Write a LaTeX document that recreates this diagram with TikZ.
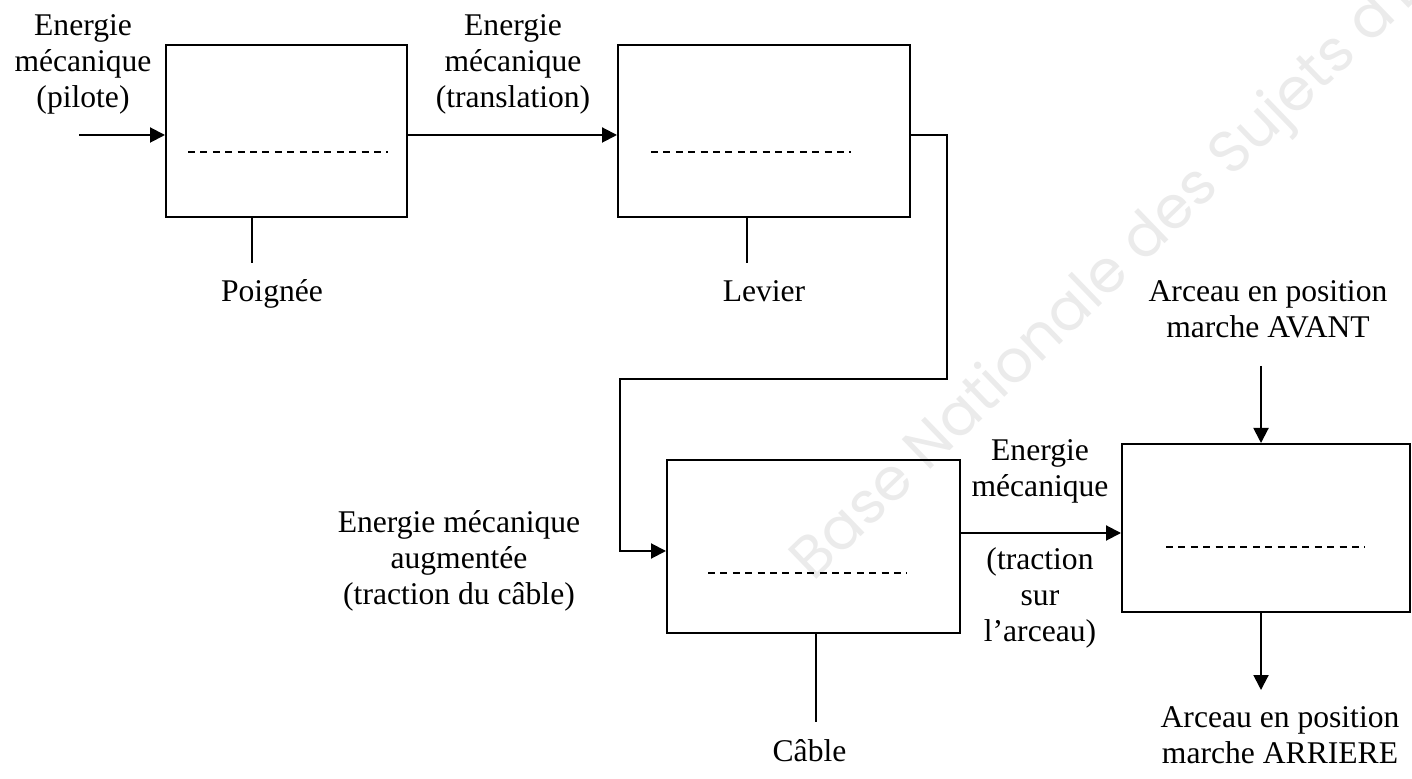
\documentclass[tikz,border=0pt]{standalone}
\usepackage{fontspec}
\setmainfont{Liberation Serif}
\newfontfamily\wmfont{Poppins}
\usetikzlibrary{arrows.meta}

\begin{document}
\begin{tikzpicture}[
				x = 0.5pt, y = -0.5pt,
				bloc/.style = {draw, line width = 1pt, inner sep = 0pt, minimum height = 86pt},
				fleche/.style = {line width = 1pt, -{Triangle[length=7.5pt,width=7.5pt]}},
				support/.style = {line width = 0.7pt},
				pointilles/.style = {line width = 0.65pt, dash pattern = on 3.5pt off 2.7pt},
				txt/.style = {font = \fontsize{15.8}{18}\selectfont, align = center, inner sep = 0pt}
			]

			\useasboundingbox (0,0) rectangle (1412,779);

			% filigrane
			\begin{scope}
				\clip (0,0) rectangle (1412,779);
				\node[anchor=base west, rotate=44, inner sep=0pt, text=black!8,
					font=\fontsize{29.5}{34}\selectfont\wmfont] (filigrane) at (813,583)
					{Base Nationale des Sujets d'Examens};
			\end{scope}

			\node[bloc, minimum width=120.5pt] (poignee) at (286.5,131) {};
			\node[bloc, minimum width=146pt] (levier) at (764,131) {};
			\node[bloc, minimum width=146.5pt] (cable) at (813.5,546.5) {};
			\node[bloc, minimum width=144pt, minimum height=84pt] (arceau) at (1266,528) {};

			\draw[pointilles] (188,152) -- (388,152);
			\draw[pointilles] (651,152) -- (851,152);
			\draw[pointilles] (708,573) -- (907,573);
			\draw[pointilles] (1166,547) -- (1365,547);

			\coordinate (entree) at (79,135);
			\coordinate (coude1) at (947,379);
			\coordinate (coude2) at (620,551);
			\coordinate (avant) at (1261,366);
			\coordinate (arriere) at (1261,690);

			\draw[fleche] (entree) -- (entree -| poignee.west);
			\draw[fleche] (entree -| poignee.east) -- (entree -| levier.west);
			\draw[fleche] (entree -| levier.east) -| (coude1) -| (coude2) -- (coude2 -| cable.west);
			\draw[fleche] ([yshift=6.75pt]cable.east) -- ([yshift=6.75pt]cable.east -| arceau.west);
			\draw[fleche] (avant) -- (avant |- arceau.north);
			\draw[fleche] (avant |- arceau.south) -- (arriere);

			\draw[support] ([xshift=-17.25pt]poignee.south) -- ++(0,45);
			\draw[support] ([xshift=-8.5pt]levier.south) -- ++(0,45);
			\draw[support] ([xshift=1.25pt]cable.south) -- ++(0,88);

			\node[txt, anchor=base] (lpoignee) at (272,302) {Poignée};
			\node[txt, anchor=base] (llevier) at (764,302) {Levier};
			\node[txt, anchor=base] (lcable) at (809.5,761) {Câble};

			\node[txt] (epilote) at (83,64.5) {Energie\\mécanique\\(pilote)};
			\node[txt] (etranslation) at (513,64.5) {Energie\\mécanique\\(translation)};
			\node[txt] (ecable) at (459,561) {Energie mécanique\\augmentée\\(traction du câble)};
			\node[txt] (earceau) at (1040,471) {Energie\\mécanique};
			\node[txt] (etraction) at (1040,598) {(traction\\sur\\l’arceau)};
			\node[txt] (pavant) at (1268,309.5) {Arceau en position\\marche AVANT};
			\node[txt] (parriere) at (1280,735.5) {Arceau en position\\marche ARRIERE};

\end{tikzpicture}
\end{document}
